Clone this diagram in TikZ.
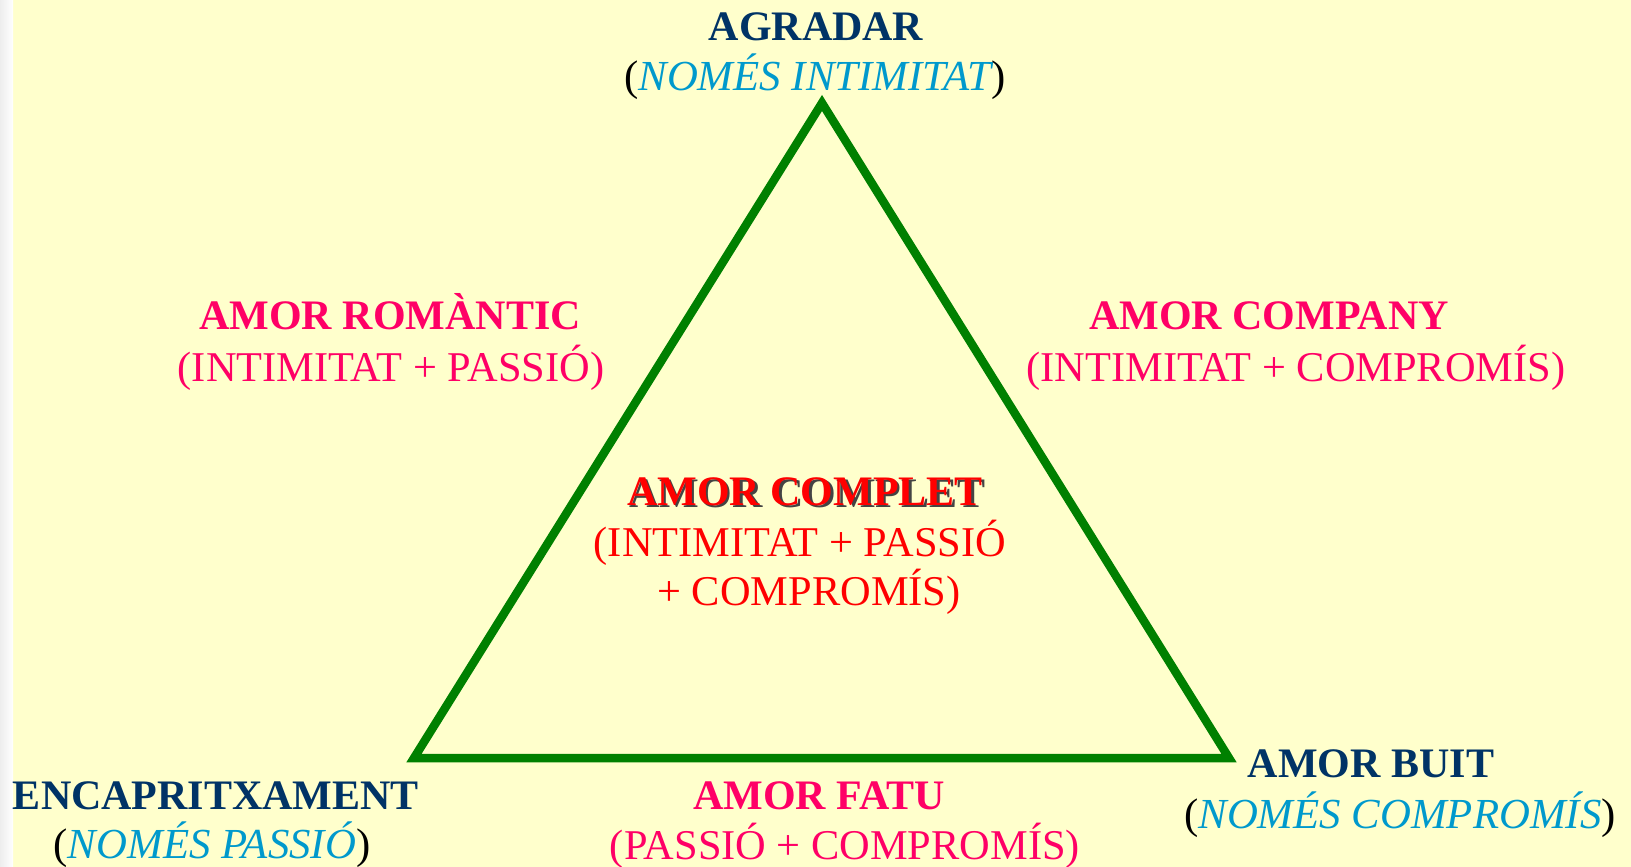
\documentclass[tikz,border=0pt]{standalone}
\usepackage{fontspec}
\setmainfont{Liberation Serif}
\definecolor{bgyellow}{HTML}{FFFFCC}
\definecolor{navy}{HTML}{003366}
\definecolor{cyanit}{HTML}{0099CC}
\definecolor{pinkred}{HTML}{FF0066}
\definecolor{trigreen}{HTML}{008000}
\definecolor{shadowgray}{HTML}{444444}
\tikzset{
  lbl/.style={inner sep=0pt, anchor=base, font=\fontsize{42}{50}\selectfont},
  head/.style={lbl, text=navy, font=\fontsize{42}{50}\selectfont\bfseries},
  sub/.style={lbl, text=black, font=\fontsize{42.8}{50}\selectfont},
  pinkhead/.style={lbl, text=pinkred, font=\fontsize{42}{50}\selectfont\bfseries},
  pinksub/.style={lbl, text=pinkred, font=\fontsize{42.4}{50}\selectfont},
  redsub/.style={lbl, text=red, font=\fontsize{42.4}{50}\selectfont},
  tri/.style={draw=trigreen, line width=8.5pt, line join=miter}
}
\newcommand{\cy}[1]{\textcolor{cyanit}{\itshape #1}}
\begin{document}
\begin{tikzpicture}[x=1pt,y=-1pt]
\useasboundingbox (0,0) rectangle (1631,867);
\fill[bgyellow] (0,0) rectangle (1631,867);
\shade[left color=black!7, right color=white] (0,0) rectangle (13,867);

\coordinate (top) at (822,103);
\coordinate (bl) at (414,758);
\coordinate (br) at (1229,758);
\draw[tri] (top) -- (bl) -- (br) -- cycle;

% top
\node[head] (agr) at (816,41) {AGRADAR};
\node[sub] (agrs) at (815,91) {(\cy{NOMÉS INTIMITAT})};

% left
\node[pinkhead] (rom) at (390,329) {AMOR ROMÀNTIC};
\node[pinksub] (roms) at (391,381) {(INTIMITAT + PASSIÓ)};

% right
\node[pinkhead] (comp) at (1269,329) {AMOR COMPANY};
\node[pinksub] (comps) at (1296,381) {(INTIMITAT + COMPROMÍS)};

% center
\node[lbl, text=shadowgray, font=\fontsize{42}{50}\selectfont\bfseries] (cplsh) at (807.5,507.5) {AMOR COMPLET};
\node[lbl, text=red, font=\fontsize{42}{50}\selectfont\bfseries] (cpl) at (805,505) {AMOR COMPLET};
\node[redsub] (cpl2) at (800,556) {(INTIMITAT + PASSIÓ};
\node[redsub] (cpl3) at (809,605) {+ COMPROMÍS)};

% bottom left
\node[head] (enc) at (216,809) {ENCAPRITXAMENT};
\node[sub] (encs) at (212,858) {(\cy{NOMÉS PASSIÓ})};

% bottom
\node[pinkhead] (fatu) at (819,809) {AMOR FATU};
\node[pinksub] (fatus) at (845,859) {(PASSIÓ + COMPROMÍS)};

% bottom right
\node[head] (buit) at (1371,777) {AMOR BUIT};
\node[sub] (buits) at (1400,828) {(\cy{NOMÉS COMPROMÍS})};
\end{tikzpicture}
\end{document}
